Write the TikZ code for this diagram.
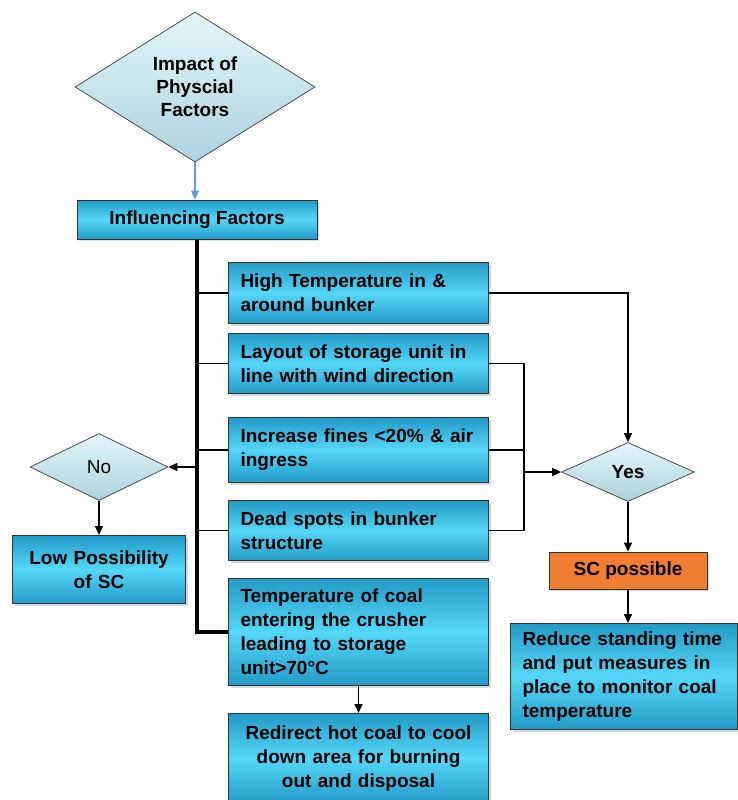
\documentclass[tikz,border=0pt]{standalone}
\usepackage{fontspec}
\setmainfont{Liberation Sans}
\usetikzlibrary{shapes.geometric}
\usetikzlibrary{arrows.meta}
\usetikzlibrary{shadows}
\usetikzlibrary{positioning}
\definecolor{boxdark}{RGB}{35, 155, 200}
\definecolor{boxlight}{RGB}{85, 215, 248}
\definecolor{diatop}{RGB}{228, 247, 252}
\definecolor{diabot}{RGB}{172, 210, 222}
\definecolor{scorange}{RGB}{240, 125, 50}
\definecolor{linkblue}{RGB}{95, 155, 225}

\tikzset{
    boxbase/.style={draw=black!80, line width=1pt, rectangle, top color=boxdark, bottom color=boxdark, middle color=boxlight, drop shadow={shadow xshift=2pt, shadow yshift=-2pt, opacity=0.3}, font=\fontsize{19}{24}\selectfont\bfseries},
    factor/.style={boxbase, anchor=north west, minimum width=260pt, text width=236pt, inner xsep=12pt, align=left},
    decide/.style={diamond, draw=black!70, line width=0.8pt, top color=diatop, bottom color=diabot, inner sep=0pt, font=\fontsize{19}{23}\selectfont\bfseries, align=center},
    link/.style={draw=black, line width=1.6pt},
    trunk/.style={draw=black, line width=3.5pt},
    tip/.style={-{Triangle[length=9pt, width=8pt]}},
}

\begin{document}
\begin{tikzpicture}[x=1pt, y=-1pt]
    \useasboundingbox (0, 0) rectangle (738, 800);

    % start and common trunk
    \node[decide, minimum width=240pt, minimum height=150pt] (impact) at (195, 87) {Impact of\\Physcial\\Factors};
    \node[boxbase, minimum width=240pt, minimum height=39pt] (infl) at (197, 219.5) {Influencing Factors};

    % factor boxes
    \node[factor, minimum height=61pt] (f1) at (228, 262) {High Temperature in \&\\around bunker};
    \node[factor, minimum height=60pt] (f2) at (228, 333) {Layout of storage unit in\\line with wind direction};
    \node[factor, minimum height=65pt] (f3) at (228, 417) {Increase fines <20\% \& air\\ingress};
    \node[factor, minimum height=60pt] (f4) at (228, 500) {Dead spots in bunker\\structure};
    \node[factor, minimum height=107pt] (f5) at (228, 578) {Temperature of coal\\entering the crusher\\leading to storage\\unit>70°C};
    \node[factor, minimum height=90pt, align=center] (f6) at (228, 713) {Redirect hot coal to cool\\down area for burning\\out and disposal};

    % no branch
    \node[decide, minimum width=138pt, minimum height=67pt, font=\fontsize{19}{23}\selectfont] (no) at (99, 467) {No};
    \node[factor, minimum width=173pt, text width=149pt, minimum height=68pt, align=center] (low) at (12, 535) {Low Possibility\\of SC};

    % yes branch
    \node[decide, minimum width=133pt, minimum height=59pt] (yes) at (628, 472) {Yes};
    \node[boxbase, top color=scorange, bottom color=scorange, middle color=scorange, minimum width=158pt, minimum height=37pt] (scpos) at (628, 570.5) {SC possible};
    \node[factor, minimum width=227pt, text width=203pt, minimum height=106pt] (reduce) at (510, 623) {Reduce standing time\\and put measures in\\place to monitor coal\\temperature};
    \coordinate (merge) at (524, 472);

    % connectors
    \draw[link, linkblue, line width=1.2pt, tip] (impact.south) -- (impact.south |- infl.north);
    \draw[link] (infl.south |- f1.west) -- (f1.west);
    \draw[link] (infl.south |- f2.west) -- (f2.west);
    \draw[link] (infl.south |- f3.west) -- (f3.west);
    \draw[link] (infl.south |- f4.west) -- (f4.west);
    \draw[link, tip] (infl.south |- no.east) -- (no.east);
    \draw[trunk] (infl.south) |- (f5.west);

    \draw[link, tip] (f1.east) -| (yes.north);
    \draw[link] (f2.east) -| (merge |- f4.east) -- (f4.east);
    \draw[link] (f3.east) -- (merge |- f3.east);
    \draw[link, tip] (merge) -- (yes.west);

    \draw[link, tip] (yes.south) -- (scpos.north);
    \draw[link, tip] (scpos.south) -- (scpos.south |- reduce.north);
    \draw[link, tip] (no.south) -- (no.south |- low.north);
    \draw[link, tip] (f5.south) -- (f6.north);
\end{tikzpicture}
\end{document}
